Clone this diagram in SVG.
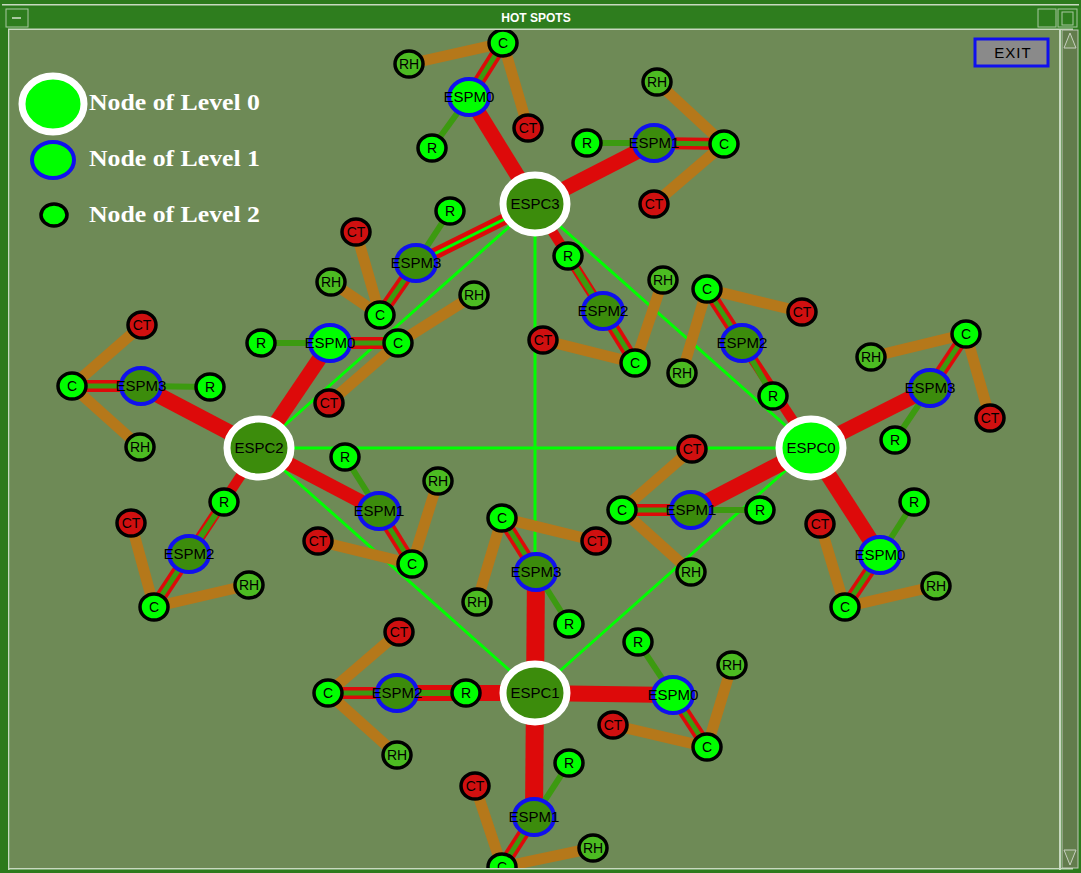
<svg xmlns="http://www.w3.org/2000/svg" width="1081" height="873" viewBox="0 0 1081 873">
<style>
.lime{stroke:#00ff00;stroke-width:3;fill:none}
.red{stroke:#dd0a0a;fill:none}
.redd{stroke:#dd0a0a;stroke-width:12;fill:none}
.grn{stroke:#3c9a10;stroke-width:6;fill:none}
.grnd{stroke:#3c9a10;stroke-width:5;fill:none}
.brn{stroke:#b5781a;stroke-width:11;fill:none}
.l0{stroke:#ffffff;stroke-width:7}
.l1{stroke:#1010ee;stroke-width:4}
.l2{stroke:#000000;stroke-width:3.5}
.dk{fill:#3c8c0c}
.lm{fill:#00ff00}
.rh{fill:#4cbb22}
.ct{fill:#d01010}
.t1{font-family:"Liberation Sans",Arial,sans-serif;font-size:15px;fill:#000;text-anchor:middle}
.t2{font-family:"Liberation Sans",Arial,sans-serif;font-size:14px;fill:#000;text-anchor:middle}
.lg{font-family:"Liberation Serif","Times New Roman",serif;font-weight:bold;font-size:23px;fill:#ffffff}
</style>
<defs>
<clipPath id="cv"><rect x="10" y="30" width="1049" height="838"/></clipPath>
</defs>
<!-- window frame -->
<rect x="0" y="0" width="1081" height="873" fill="#2c7a1c"/>
<rect x="2" y="4" width="1077" height="1.5" fill="#c8d8c0"/>
<rect x="0" y="8" width="1081" height="20" fill="#2e7d1e"/>
<rect x="6" y="9" width="22" height="18" fill="none" stroke="#a8c8a0" stroke-width="1"/>
<rect x="12" y="17" width="9" height="2" fill="#a8c8a0"/>
<rect x="1038" y="9" width="18" height="18" fill="none" stroke="#a8c8a0" stroke-width="1"/>
<rect x="1058" y="9" width="19" height="18" fill="none" stroke="#a8c8a0" stroke-width="1"/>
<rect x="1062" y="12" width="11" height="13" fill="none" stroke="#a8c8a0" stroke-width="1"/>
<text x="536" y="22" font-family="Liberation Sans,Arial,sans-serif" font-size="12" font-weight="bold" fill="#ffffff" text-anchor="middle">HOT SPOTS</text>
<rect x="8" y="28.5" width="1065" height="1.5" fill="#c8d8c0"/>
<rect x="8" y="29" width="1.5" height="841" fill="#c8d8c0"/>
<rect x="10" y="30" width="1049" height="838" fill="#6e8a56"/>
<rect x="1059" y="30" width="2" height="840" fill="#c8d8c0"/>
<rect x="1062" y="30" width="16" height="838" fill="#627c4c" stroke="#c0c8b8" stroke-width="1"/>
<polygon points="1064,48 1070,33 1076,48" fill="#6e8a56" stroke="#c8d0c0" stroke-width="1"/>
<polygon points="1064,850 1070,865 1076,850" fill="#6e8a56" stroke="#c8d0c0" stroke-width="1"/>
<rect x="8" y="868" width="1065" height="1.5" fill="#c8d8c0"/>

<g clip-path="url(#cv)">
<g id="connectors">
<!-- level 0 links -->
<line class="lime" x1="535" y1="204" x2="535" y2="693"/>
<line class="lime" x1="259" y1="448" x2="811" y2="448"/>
<line class="lime" x1="535" y1="204" x2="259" y2="448"/>
<line class="lime" x1="535" y1="204" x2="811" y2="448"/>
<line class="lime" x1="259" y1="448" x2="535" y2="693"/>
<line class="lime" x1="811" y1="448" x2="535" y2="693"/>
<!-- level 0 to level 1 -->
<line class="red" stroke-width="15" x1="535" y1="204" x2="469" y2="97"/>
<line class="red" stroke-width="15" x1="535" y1="204" x2="654" y2="143"/>
<line class="red" stroke-width="12" x1="535" y1="204" x2="416" y2="263"/>
<line class="lime" x1="535" y1="204" x2="416" y2="263"/>
<line class="red" stroke-width="10" x1="535" y1="204" x2="603" y2="311"/>
<line class="red" stroke-width="15" x1="259" y1="448" x2="330" y2="343"/>
<line class="red" stroke-width="16" x1="259" y1="448" x2="141" y2="386"/>
<line class="red" stroke-width="10" x1="259" y1="448" x2="189" y2="554"/>
<line class="red" stroke-width="14" x1="259" y1="448" x2="379" y2="511"/>
<line class="red" stroke-width="10" x1="811" y1="448" x2="742" y2="343"/>
<line class="red" stroke-width="15" x1="811" y1="448" x2="930" y2="388"/>
<line class="red" stroke-width="16" x1="811" y1="448" x2="691" y2="510"/>
<line class="red" stroke-width="16" x1="811" y1="448" x2="880" y2="555"/>
<line class="red" stroke-width="18" x1="535" y1="693" x2="536" y2="572"/>
<line class="red" stroke-width="16" x1="535" y1="693" x2="397" y2="693"/>
<line class="red" stroke-width="16" x1="535" y1="693" x2="673" y2="695"/>
<line class="red" stroke-width="18" x1="535" y1="693" x2="534" y2="817"/>
<!-- C to CT / RH -->
<path class="brn" d="M409,64 L503,43 L528,128"/>
<path class="brn" d="M657,82 L724,144 L654,204"/>
<path class="brn" d="M356,232 L380,315 L331,282"/>
<path class="brn" d="M543,340 L635,363 L663,280"/>
<path class="brn" d="M474,295 L398,343 L329,403"/>
<path class="brn" d="M142,325 L72,386 L140,447"/>
<path class="brn" d="M131,523 L154,607 L249,585"/>
<path class="brn" d="M438,481 L412,564 L318,541"/>
<path class="brn" d="M802,312 L707,289 L682,373"/>
<path class="brn" d="M871,357 L966,334 L990,418"/>
<path class="brn" d="M692,449 L622,510 L691,572"/>
<path class="brn" d="M820,524 L845,607 L936,586"/>
<path class="brn" d="M596,541 L502,518 L477,602"/>
<path class="brn" d="M399,632 L328,693 L397,755"/>
<path class="brn" d="M732,665 L707,747 L613,725"/>
<path class="brn" d="M475,786 L502,867 L593,848"/>
<!-- level 1 to C (double) -->
<g class="redd">
<line x1="469" y1="97" x2="503" y2="43"/>
<line x1="654" y1="143" x2="724" y2="144"/>
<line x1="416" y1="263" x2="380" y2="315"/>
<line x1="603" y1="311" x2="635" y2="363"/>
<line x1="330" y1="343" x2="398" y2="343"/>
<line x1="141" y1="386" x2="72" y2="386"/>
<line x1="189" y1="554" x2="154" y2="607"/>
<line x1="379" y1="511" x2="412" y2="564"/>
<line x1="742" y1="343" x2="707" y2="289"/>
<line x1="930" y1="388" x2="966" y2="334"/>
<line x1="691" y1="510" x2="622" y2="510"/>
<line x1="880" y1="555" x2="845" y2="607"/>
<line x1="536" y1="572" x2="502" y2="518"/>
<line x1="397" y1="693" x2="328" y2="693"/>
<line x1="673" y1="695" x2="707" y2="747"/>
<line x1="534" y1="817" x2="502" y2="867"/>
</g>
<g class="grnd">
<line x1="469" y1="97" x2="503" y2="43"/>
<line x1="654" y1="143" x2="724" y2="144"/>
<line x1="416" y1="263" x2="380" y2="315"/>
<line x1="603" y1="311" x2="635" y2="363"/>
<line x1="330" y1="343" x2="398" y2="343"/>
<line x1="141" y1="386" x2="72" y2="386"/>
<line x1="189" y1="554" x2="154" y2="607"/>
<line x1="379" y1="511" x2="412" y2="564"/>
<line x1="742" y1="343" x2="707" y2="289"/>
<line x1="930" y1="388" x2="966" y2="334"/>
<line x1="691" y1="510" x2="622" y2="510"/>
<line x1="880" y1="555" x2="845" y2="607"/>
<line x1="536" y1="572" x2="502" y2="518"/>
<line x1="397" y1="693" x2="328" y2="693"/>
<line x1="673" y1="695" x2="707" y2="747"/>
<line x1="534" y1="817" x2="502" y2="867"/>
</g>
<!-- level 1 to R -->
<g class="grn">
<line x1="469" y1="97" x2="432" y2="148"/>
<line x1="654" y1="143" x2="587" y2="143"/>
<line x1="416" y1="263" x2="450" y2="211"/>
<line x1="603" y1="311" x2="568" y2="256"/>
<line x1="330" y1="343" x2="261" y2="343"/>
<line x1="141" y1="386" x2="210" y2="387"/>
<line x1="189" y1="554" x2="224" y2="502"/>
<line x1="379" y1="511" x2="345" y2="457"/>
<line x1="742" y1="343" x2="773" y2="396"/>
<line x1="930" y1="388" x2="895" y2="440"/>
<line x1="691" y1="510" x2="760" y2="510"/>
<line x1="880" y1="555" x2="914" y2="502"/>
<line x1="536" y1="572" x2="569" y2="624"/>
<line x1="397" y1="693" x2="466" y2="693"/>
<line x1="673" y1="695" x2="638" y2="642"/>
<line x1="534" y1="817" x2="569" y2="763"/>
</g>
</g>

<!-- level 0 nodes -->
<g id="espc3"><ellipse class="l0 dk" cx="535" cy="204" rx="32" ry="29"/><text class="t1" x="535" y="209">ESPC3</text></g>
<g id="espc2"><ellipse class="l0 dk" cx="259" cy="448" rx="32" ry="29"/><text class="t1" x="259" y="453">ESPC2</text></g>
<g id="espc0"><ellipse class="l0 lm" cx="811" cy="448" rx="32" ry="29"/><text class="t1" x="811" y="453">ESPC0</text></g>
<g id="espc1"><ellipse class="l0 dk" cx="535" cy="693" rx="32" ry="29"/><text class="t1" x="535" y="698">ESPC1</text></g>

<!-- level 1 nodes -->
<g id="c3m0"><ellipse class="l1 lm" cx="469" cy="97" rx="20" ry="18"/><text class="t1" x="469" y="102">ESPM0</text></g>
<g id="c3m1"><ellipse class="l1 dk" cx="654" cy="143" rx="20" ry="18"/><text class="t1" x="654" y="148">ESPM1</text></g>
<g id="c3m3"><ellipse class="l1 dk" cx="416" cy="263" rx="20" ry="18"/><text class="t1" x="416" y="268">ESPM3</text></g>
<g id="c3m2"><ellipse class="l1 dk" cx="603" cy="311" rx="20" ry="18"/><text class="t1" x="603" y="316">ESPM2</text></g>
<g id="c2m0"><ellipse class="l1 lm" cx="330" cy="343" rx="20" ry="18"/><text class="t1" x="330" y="348">ESPM0</text></g>
<g id="c2m3"><ellipse class="l1 dk" cx="141" cy="386" rx="20" ry="18"/><text class="t1" x="141" y="391">ESPM3</text></g>
<g id="c2m2"><ellipse class="l1 dk" cx="189" cy="554" rx="20" ry="18"/><text class="t1" x="189" y="559">ESPM2</text></g>
<g id="c2m1"><ellipse class="l1 dk" cx="379" cy="511" rx="20" ry="18"/><text class="t1" x="379" y="516">ESPM1</text></g>
<g id="c0m2"><ellipse class="l1 dk" cx="742" cy="343" rx="20" ry="18"/><text class="t1" x="742" y="348">ESPM2</text></g>
<g id="c0m3"><ellipse class="l1 dk" cx="930" cy="388" rx="20" ry="18"/><text class="t1" x="930" y="393">ESPM3</text></g>
<g id="c0m1"><ellipse class="l1 dk" cx="691" cy="510" rx="20" ry="18"/><text class="t1" x="691" y="515">ESPM1</text></g>
<g id="c0m0"><ellipse class="l1 lm" cx="880" cy="555" rx="20" ry="18"/><text class="t1" x="880" y="560">ESPM0</text></g>
<g id="c1m3"><ellipse class="l1 dk" cx="536" cy="572" rx="20" ry="18"/><text class="t1" x="536" y="577">ESPM3</text></g>
<g id="c1m2"><ellipse class="l1 dk" cx="397" cy="693" rx="20" ry="18"/><text class="t1" x="397" y="698">ESPM2</text></g>
<g id="c1m0"><ellipse class="l1 lm" cx="673" cy="695" rx="20" ry="18"/><text class="t1" x="673" y="700">ESPM0</text></g>
<g id="c1m1"><ellipse class="l1 dk" cx="534" cy="817" rx="20" ry="18"/><text class="t1" x="534" y="822">ESPM1</text></g>

<!-- level 2 nodes -->
<g id="c3m0r"><ellipse class="l2 lm" cx="432" cy="148" rx="14" ry="13"/><text class="t2" x="432" y="153">R</text></g>
<g id="c3m0c"><ellipse class="l2 lm" cx="503" cy="43" rx="14" ry="13"/><text class="t2" x="503" y="48">C</text></g>
<g id="c3m0rh"><ellipse class="l2 rh" cx="409" cy="64" rx="14" ry="13"/><text class="t2" x="409" y="69">RH</text></g>
<g id="c3m0ct"><ellipse class="l2 ct" cx="528" cy="128" rx="14" ry="13"/><text class="t2" x="528" y="133">CT</text></g>

<g id="c3m1r"><ellipse class="l2 lm" cx="587" cy="143" rx="14" ry="13"/><text class="t2" x="587" y="148">R</text></g>
<g id="c3m1c"><ellipse class="l2 lm" cx="724" cy="144" rx="14" ry="13"/><text class="t2" x="724" y="149">C</text></g>
<g id="c3m1rh"><ellipse class="l2 rh" cx="657" cy="82" rx="14" ry="13"/><text class="t2" x="657" y="87">RH</text></g>
<g id="c3m1ct"><ellipse class="l2 ct" cx="654" cy="204" rx="14" ry="13"/><text class="t2" x="654" y="209">CT</text></g>

<g id="c3m3r"><ellipse class="l2 lm" cx="450" cy="211" rx="14" ry="13"/><text class="t2" x="450" y="216">R</text></g>
<g id="c3m3c"><ellipse class="l2 lm" cx="380" cy="315" rx="14" ry="13"/><text class="t2" x="380" y="320">C</text></g>
<g id="c3m3rh"><ellipse class="l2 rh" cx="331" cy="282" rx="14" ry="13"/><text class="t2" x="331" y="287">RH</text></g>
<g id="c3m3ct"><ellipse class="l2 ct" cx="356" cy="232" rx="14" ry="13"/><text class="t2" x="356" y="237">CT</text></g>

<g id="c3m2r"><ellipse class="l2 lm" cx="568" cy="256" rx="14" ry="13"/><text class="t2" x="568" y="261">R</text></g>
<g id="c3m2c"><ellipse class="l2 lm" cx="635" cy="363" rx="14" ry="13"/><text class="t2" x="635" y="368">C</text></g>
<g id="c3m2rh"><ellipse class="l2 rh" cx="663" cy="280" rx="14" ry="13"/><text class="t2" x="663" y="285">RH</text></g>
<g id="c3m2ct"><ellipse class="l2 ct" cx="543" cy="340" rx="14" ry="13"/><text class="t2" x="543" y="345">CT</text></g>

<g id="c2m0r"><ellipse class="l2 lm" cx="261" cy="343" rx="14" ry="13"/><text class="t2" x="261" y="348">R</text></g>
<g id="c2m0c"><ellipse class="l2 lm" cx="398" cy="343" rx="14" ry="13"/><text class="t2" x="398" y="348">C</text></g>
<g id="c2m0rh"><ellipse class="l2 rh" cx="474" cy="295" rx="14" ry="13"/><text class="t2" x="474" y="300">RH</text></g>
<g id="c2m0ct"><ellipse class="l2 ct" cx="329" cy="403" rx="14" ry="13"/><text class="t2" x="329" y="408">CT</text></g>

<g id="c2m3r"><ellipse class="l2 lm" cx="210" cy="387" rx="14" ry="13"/><text class="t2" x="210" y="392">R</text></g>
<g id="c2m3c"><ellipse class="l2 lm" cx="72" cy="386" rx="14" ry="13"/><text class="t2" x="72" y="391">C</text></g>
<g id="c2m3rh"><ellipse class="l2 rh" cx="140" cy="447" rx="14" ry="13"/><text class="t2" x="140" y="452">RH</text></g>
<g id="c2m3ct"><ellipse class="l2 ct" cx="142" cy="325" rx="14" ry="13"/><text class="t2" x="142" y="330">CT</text></g>

<g id="c2m2r"><ellipse class="l2 lm" cx="224" cy="502" rx="14" ry="13"/><text class="t2" x="224" y="507">R</text></g>
<g id="c2m2c"><ellipse class="l2 lm" cx="154" cy="607" rx="14" ry="13"/><text class="t2" x="154" y="612">C</text></g>
<g id="c2m2rh"><ellipse class="l2 rh" cx="249" cy="585" rx="14" ry="13"/><text class="t2" x="249" y="590">RH</text></g>
<g id="c2m2ct"><ellipse class="l2 ct" cx="131" cy="523" rx="14" ry="13"/><text class="t2" x="131" y="528">CT</text></g>

<g id="c2m1r"><ellipse class="l2 lm" cx="345" cy="457" rx="14" ry="13"/><text class="t2" x="345" y="462">R</text></g>
<g id="c2m1c"><ellipse class="l2 lm" cx="412" cy="564" rx="14" ry="13"/><text class="t2" x="412" y="569">C</text></g>
<g id="c2m1rh"><ellipse class="l2 rh" cx="438" cy="481" rx="14" ry="13"/><text class="t2" x="438" y="486">RH</text></g>
<g id="c2m1ct"><ellipse class="l2 ct" cx="318" cy="541" rx="14" ry="13"/><text class="t2" x="318" y="546">CT</text></g>

<g id="c0m2r"><ellipse class="l2 lm" cx="773" cy="396" rx="14" ry="13"/><text class="t2" x="773" y="401">R</text></g>
<g id="c0m2c"><ellipse class="l2 lm" cx="707" cy="289" rx="14" ry="13"/><text class="t2" x="707" y="294">C</text></g>
<g id="c0m2rh"><ellipse class="l2 rh" cx="682" cy="373" rx="14" ry="13"/><text class="t2" x="682" y="378">RH</text></g>
<g id="c0m2ct"><ellipse class="l2 ct" cx="802" cy="312" rx="14" ry="13"/><text class="t2" x="802" y="317">CT</text></g>

<g id="c0m3r"><ellipse class="l2 lm" cx="895" cy="440" rx="14" ry="13"/><text class="t2" x="895" y="445">R</text></g>
<g id="c0m3c"><ellipse class="l2 lm" cx="966" cy="334" rx="14" ry="13"/><text class="t2" x="966" y="339">C</text></g>
<g id="c0m3rh"><ellipse class="l2 rh" cx="871" cy="357" rx="14" ry="13"/><text class="t2" x="871" y="362">RH</text></g>
<g id="c0m3ct"><ellipse class="l2 ct" cx="990" cy="418" rx="14" ry="13"/><text class="t2" x="990" y="423">CT</text></g>

<g id="c0m1r"><ellipse class="l2 lm" cx="760" cy="510" rx="14" ry="13"/><text class="t2" x="760" y="515">R</text></g>
<g id="c0m1c"><ellipse class="l2 lm" cx="622" cy="510" rx="14" ry="13"/><text class="t2" x="622" y="515">C</text></g>
<g id="c0m1rh"><ellipse class="l2 rh" cx="691" cy="572" rx="14" ry="13"/><text class="t2" x="691" y="577">RH</text></g>
<g id="c0m1ct"><ellipse class="l2 ct" cx="692" cy="449" rx="14" ry="13"/><text class="t2" x="692" y="454">CT</text></g>

<g id="c0m0r"><ellipse class="l2 lm" cx="914" cy="502" rx="14" ry="13"/><text class="t2" x="914" y="507">R</text></g>
<g id="c0m0c"><ellipse class="l2 lm" cx="845" cy="607" rx="14" ry="13"/><text class="t2" x="845" y="612">C</text></g>
<g id="c0m0rh"><ellipse class="l2 rh" cx="936" cy="586" rx="14" ry="13"/><text class="t2" x="936" y="591">RH</text></g>
<g id="c0m0ct"><ellipse class="l2 ct" cx="820" cy="524" rx="14" ry="13"/><text class="t2" x="820" y="529">CT</text></g>

<g id="c1m3r"><ellipse class="l2 lm" cx="569" cy="624" rx="14" ry="13"/><text class="t2" x="569" y="629">R</text></g>
<g id="c1m3c"><ellipse class="l2 lm" cx="502" cy="518" rx="14" ry="13"/><text class="t2" x="502" y="523">C</text></g>
<g id="c1m3rh"><ellipse class="l2 rh" cx="477" cy="602" rx="14" ry="13"/><text class="t2" x="477" y="607">RH</text></g>
<g id="c1m3ct"><ellipse class="l2 ct" cx="596" cy="541" rx="14" ry="13"/><text class="t2" x="596" y="546">CT</text></g>

<g id="c1m2r"><ellipse class="l2 lm" cx="466" cy="693" rx="14" ry="13"/><text class="t2" x="466" y="698">R</text></g>
<g id="c1m2c"><ellipse class="l2 lm" cx="328" cy="693" rx="14" ry="13"/><text class="t2" x="328" y="698">C</text></g>
<g id="c1m2rh"><ellipse class="l2 rh" cx="397" cy="755" rx="14" ry="13"/><text class="t2" x="397" y="760">RH</text></g>
<g id="c1m2ct"><ellipse class="l2 ct" cx="399" cy="632" rx="14" ry="13"/><text class="t2" x="399" y="637">CT</text></g>

<g id="c1m0r"><ellipse class="l2 lm" cx="638" cy="642" rx="14" ry="13"/><text class="t2" x="638" y="647">R</text></g>
<g id="c1m0c"><ellipse class="l2 lm" cx="707" cy="747" rx="14" ry="13"/><text class="t2" x="707" y="752">C</text></g>
<g id="c1m0rh"><ellipse class="l2 rh" cx="732" cy="665" rx="14" ry="13"/><text class="t2" x="732" y="670">RH</text></g>
<g id="c1m0ct"><ellipse class="l2 ct" cx="613" cy="725" rx="14" ry="13"/><text class="t2" x="613" y="730">CT</text></g>

<g id="c1m1r"><ellipse class="l2 lm" cx="569" cy="763" rx="14" ry="13"/><text class="t2" x="569" y="768">R</text></g>
<g id="c1m1c"><ellipse class="l2 lm" cx="502" cy="867" rx="14" ry="13"/><text class="t2" x="502" y="872">C</text></g>
<g id="c1m1rh"><ellipse class="l2 rh" cx="593" cy="848" rx="14" ry="13"/><text class="t2" x="593" y="853">RH</text></g>
<g id="c1m1ct"><ellipse class="l2 ct" cx="475" cy="786" rx="14" ry="13"/><text class="t2" x="475" y="791">CT</text></g>
</g>

<!-- legend -->
<g id="legend">
<ellipse class="l0 lm" cx="53" cy="104" rx="31" ry="28"/>
<text class="lg" x="89" y="110" textLength="171" lengthAdjust="spacingAndGlyphs">Node of Level 0</text>
<ellipse class="l1 lm" cx="53" cy="160" rx="21" ry="18"/>
<text class="lg" x="89" y="166" textLength="171" lengthAdjust="spacingAndGlyphs">Node of Level 1</text>
<ellipse class="l2 lm" cx="54" cy="215" rx="13" ry="11"/>
<text class="lg" x="89" y="222" textLength="171" lengthAdjust="spacingAndGlyphs">Node of Level 2</text>
</g>

<g id="exit">
<rect x="975" y="39" width="73" height="27" fill="#8a8a8a" stroke="#1010ee" stroke-width="3"/>
<text x="1013" y="58" font-family="Liberation Sans,Arial,sans-serif" font-size="15" fill="#000" text-anchor="middle" letter-spacing="1">EXIT</text>
</g>
</svg>
